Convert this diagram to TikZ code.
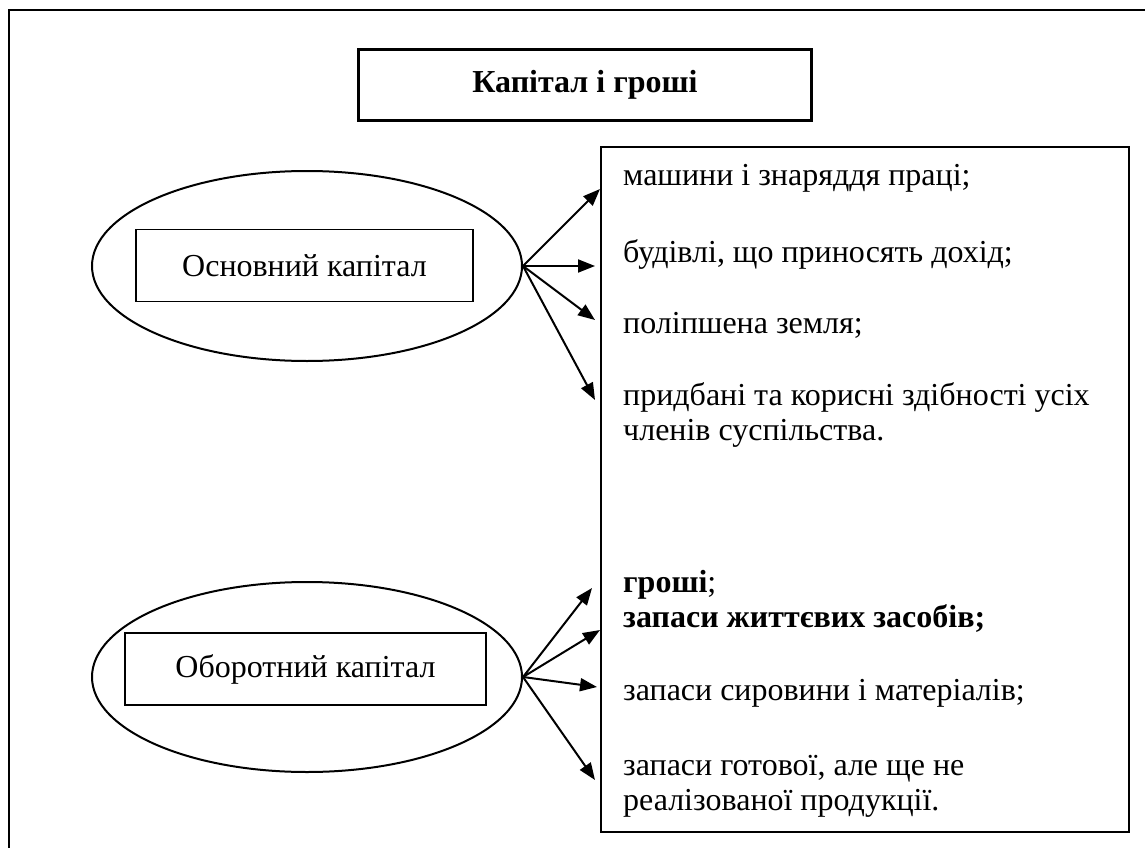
\documentclass[tikz,border=0pt]{standalone}
\usepackage{fontspec}
\setmainfont{Liberation Serif}
\usepackage{tikz}
\usetikzlibrary{shapes.geometric}
\usetikzlibrary{arrows.meta}

\begin{document}
\begin{tikzpicture}[
	x=1pt,
	y=-1pt,
	every node/.style={font=\fontsize{32}{35}\selectfont},
	frame/.style={
		line width=2.5pt
		},
	head/.style={
		rectangle,
		draw=black,
		line width=3.5pt,
		minimum width=453pt,
		minimum height=71pt,
		font=\fontsize{32}{35}\selectfont\bfseries
		},
	kind/.style={
		ellipse,
		draw=black,
		line width=2pt,
		minimum width=430pt,
		minimum height=190pt
		},
	tag/.style={
		rectangle,
		draw=black,
		line width=1.5pt,
		minimum height=72pt
		},
	list/.style={
		rectangle,
		draw=black,
		line width=2pt,
		minimum width=528pt,
		minimum height=685pt
		},
	item/.style={
		anchor=base west,
		align=left,
		inner sep=0pt
		},
	link/.style={
		line width=2pt,
		-{Triangle[length=17pt,width=13pt]}
		}
]

\useasboundingbox (0,0) rectangle (1145,848);
\clip (0,0) rectangle (1145,848);

% Frame
\draw [frame] (9,880) -- (9,10) -- (1180,10);

% Title
\node [head] (Title) at (585,85) {Капітал і гроші};

% Kinds of capital
\node [kind] (Fixed) at (307,266) {};
\node [tag, minimum width=337pt] (Fixed box) at (304.5,265.5) {Основний капітал};
\node [kind] (Circ) at (307,677) {};
\node [tag, minimum width=361pt] (Circ box) at (305.5,669) {Оборотний капітал};

% List (multi-line items sit on their last line)
\node [list] (List) at (865,489.5) {};
\node [item] (Machines) at (623,185) {машини і знаряддя праці;};
\node [item] (Buildings) at (623,262) {будівлі, що приносять дохід;};
\node [item] (Land) at (623,333) {поліпшена земля;};
\node [item] (Skills) at (623,440) {придбані та корисні здібності усіх\\членів суспільства.};
\node [item] (Money) at (623,627) {\textbf{гроші};\\\textbf{запаси життєвих засобів;}};
\node [item] (Raw) at (623,700) {запаси сировини і матеріалів;};
\node [item] (Goods) at (623,810) {запаси готової, але ще не\\реалізованої продукції.};

% Arrow ends
\coordinate (f1) at (600,189);
\coordinate (f2) at (595,266);
\coordinate (f3) at (595,320);
\coordinate (f4) at (595,400);
\coordinate (c1) at (592,588);
\coordinate (c2) at (600,630);
\coordinate (c3) at (597,687);
\coordinate (c4) at (595,780);

\foreach \e in {f1,f2,f3,f4}
	\draw [link] (Fixed.east) -- (\e);
\foreach \e in {c1,c2,c3,c4}
	\draw [link] (Circ.east) -- (\e);
\end{tikzpicture}
\end{document}
